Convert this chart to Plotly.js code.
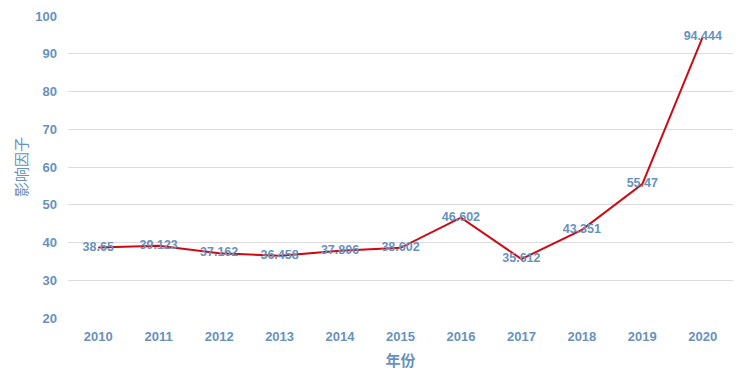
<!DOCTYPE html>
<html>
<head>
<meta charset="utf-8">
<script src="https://cdn.plot.ly/plotly-3.0.1.min.js"></script>
<style>html,body{margin:0;padding:0;background:#fff;}#chart{width:744px;height:374px;}</style>
</head>
<body>
<div id="chart"></div>
<script>
const years = ['2010','2011','2012','2013','2014','2015','2016','2017','2018','2019','2020'];
const impactFactor = [38.65, 39.123, 37.162, 36.458, 37.806, 38.602, 46.602, 35.612, 43.351, 55.47, 94.444];
const valueLabels = ['38.65','39.123','37.162','36.458','37.806','38.602','46.602','35.612','43.351','55.47','94.444'];
const yTicks = [20, 30, 40, 50, 60, 70, 80, 90, 100];
const yMin = 20, yMax = 100;

const textColor = '#6792bd';
const trace = {
  x: years,
  y: impactFactor,
  type: 'scatter',
  mode: 'lines+text',
  line: {color: '#cc0a14', width: 2},
  text: valueLabels,
  textposition: 'middle center',
  textfont: {family: 'Liberation Sans, Arial, sans-serif', size: 12.5, color: textColor, weight: 'bold'},
  cliponaxis: false,
  hoverinfo: 'none'
};

const gridTicks = yTicks.filter(v => v < yMax);
const topTicks = yTicks.filter(v => v >= yMax);

const layout = {
  width: 744, height: 374,
  margin: {l: 68, r: 11, t: 16, b: 56},
  paper_bgcolor: '#ffffff',
  plot_bgcolor: '#ffffff',
  showlegend: false,
  font: {family: 'Liberation Sans, Arial, sans-serif', color: textColor},
  xaxis: {
    type: 'category',
    range: [-0.5, 10.5],
    showgrid: false,
    zeroline: false,
    showline: false,
    ticks: '',
    ticklabelstandoff: 9,
    tickfont: {size: 13, color: textColor, weight: 'bold'},
    title: {text: '年份', font: {family: 'Noto Sans CJK SC, sans-serif', size: 15, color: textColor, weight: 'bold'}, standoff: 12}
  },
  yaxis: {
    range: [yMin, yMax],
    tickvals: gridTicks,
    ticktext: gridTicks.map(String),
    showgrid: true,
    gridcolor: '#dcdcdc',
    gridwidth: 1,
    zeroline: false,
    showline: false,
    ticks: '',
    ticklabelstandoff: 10,
    tickfont: {size: 13, color: textColor, weight: 'bold'},
    title: {text: '影响因子', font: {family: 'Noto Sans CJK SC, sans-serif', size: 15, color: textColor}, standoff: 11}
  },
  yaxis2: {
    overlaying: 'y',
    side: 'left',
    range: [yMin, yMax],
    tickvals: topTicks,
    ticktext: topTicks.map(String),
    showgrid: false,
    zeroline: false,
    showline: false,
    ticks: '',
    ticklabelstandoff: 10,
    tickfont: {size: 13, color: textColor, weight: 'bold'}
  }
};

const anchorTrace = {x: [years[0]], y: [yMin], yaxis: 'y2', type: 'scatter', mode: 'markers', marker: {opacity: 0}, hoverinfo: 'none'};

Plotly.newPlot('chart', [trace, anchorTrace], layout, {displayModeBar: false, staticPlot: true});
</script>
</body>
</html>
